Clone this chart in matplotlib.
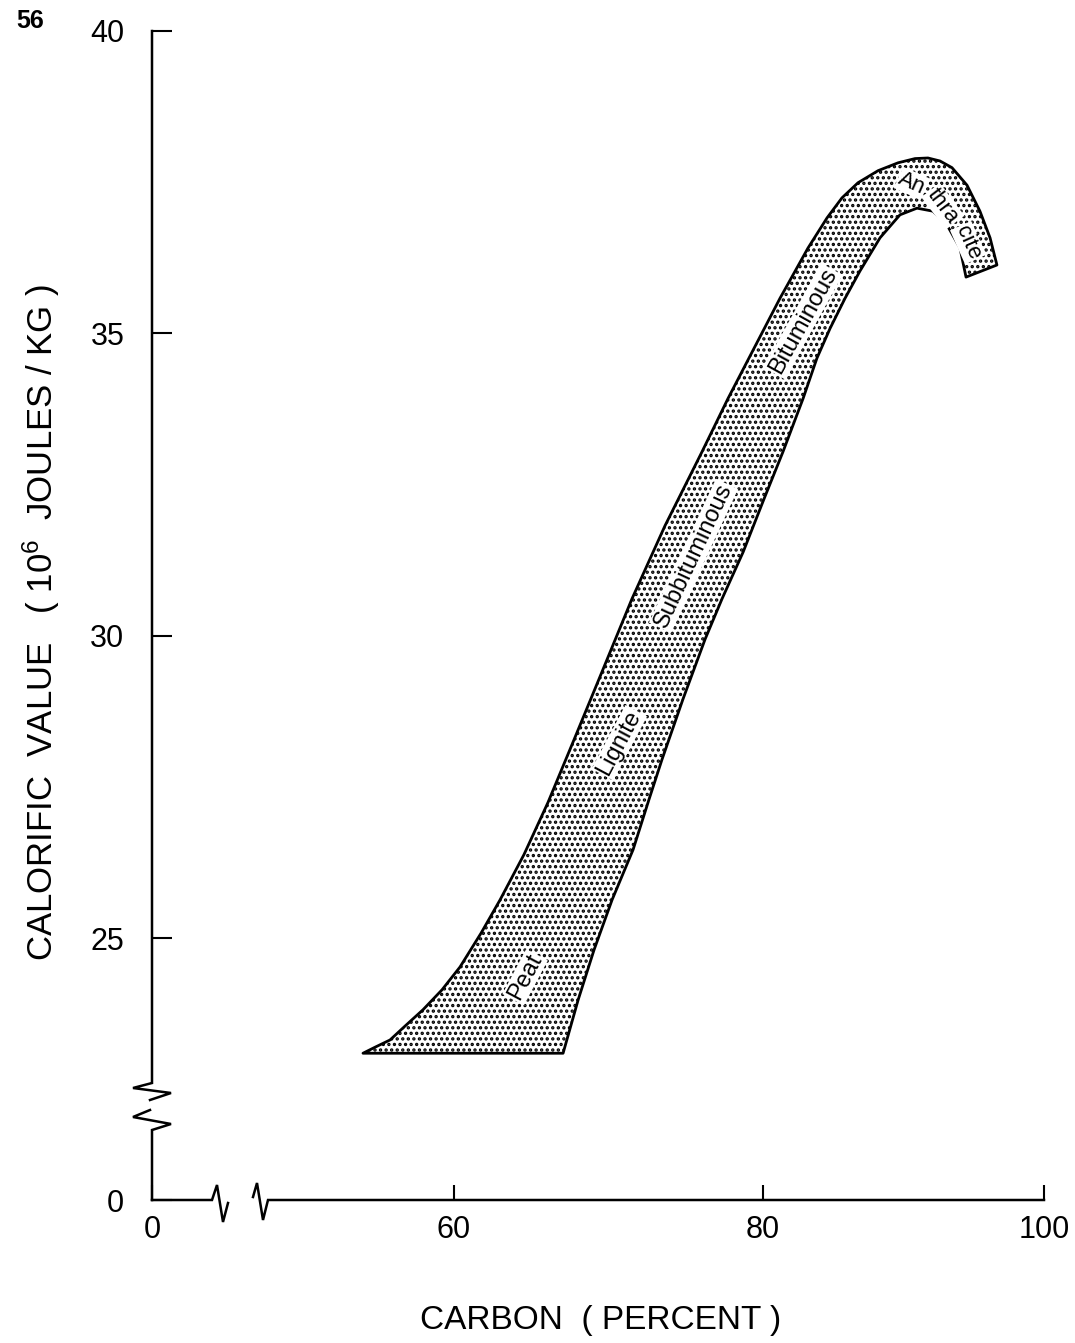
import numpy as np
import matplotlib
matplotlib.use("Agg")
import matplotlib.pyplot as plt
from matplotlib import transforms as mtransforms
from matplotlib.patches import Polygon

plt.rcParams['font.family'] = ['Liberation Sans', 'DejaVu Sans']
plt.rcParams['mathtext.default'] = 'regular'
plt.rcParams['hatch.linewidth'] = 1.6

# band outline (carbon %, 10^6 J/kg)
# outer edge: from the peat tip up and over the anthracite bend
outer_x = [54.11, 54.89, 55.86, 56.83, 57.99, 59.22, 60.39, 61.75, 62.98, 64.53,
           66.08, 67.77, 69.64, 71.52, 73.66, 76.05, 77.73, 79.09, 81.21, 83.20,
           84.56, 85.62, 86.76, 88.19, 89.61, 90.82, 91.74, 92.60, 93.45, 94.52,
           95.44, 96.16, 96.65]
outer_y = [23.09, 23.19, 23.31, 23.54, 23.81, 24.14, 24.52, 25.08, 25.63, 26.38,
           27.24, 28.28, 29.44, 30.61, 31.82, 33.04, 33.92, 34.59, 35.58, 36.41,
           36.91, 37.24, 37.49, 37.69, 37.82, 37.89, 37.90, 37.85, 37.74, 37.45,
           37.02, 36.58, 36.13]
# inner edge: from the anthracite end back down to the peat base
inner_x = [94.45, 94.02, 93.10, 92.10, 90.96, 89.75, 88.33, 86.90, 85.84, 84.77,
           83.84, 82.85, 81.42, 80.07, 78.71, 77.35, 76.25, 74.82, 73.46, 72.62,
           71.59, 70.23, 69.06, 68.03, 67.06]
inner_y = [35.93, 36.41, 36.79, 37.02, 37.07, 36.96, 36.58, 36.03, 35.58, 35.08,
           34.59, 33.92, 33.04, 32.26, 31.38, 30.61, 29.94, 28.95, 27.95, 27.29,
           26.46, 25.63, 24.80, 23.97, 23.09]

# rank labels: text, x, y, angle
rank_names = ["Peat", "Lignite", "Subbituminous", "Bituminous", "An", "thra", "cite"]
rank_x = [64.6, 70.7, 75.5, 82.85, 90.6, 92.8, 94.6]
rank_y = [24.35, 28.23, 31.32, 35.2, 37.48, 37.1, 36.5]
rank_rot = [62, 62, 65, 61, -24, -53, -66]
rank_size = [17, 17, 17, 17, 16, 16, 16]

x_ticks = [0, 60, 80, 100]
y_ticks = [0, 25, 30, 35, 40]

# the drawing's axes are hand-ruled and broken, so map through knots
xk = [0, 50, 60, 80, 100]
xp = [0, 147.5, 302, 611, 892]
yk = [0, 22, 25, 40]
yp = [0, 81, 262, 1169]

fig = plt.figure(figsize=(10.75, 13.43), dpi=100)
ax = fig.add_axes([152 / 1075, 1 - 1200 / 1343, 892 / 1075, 1169 / 1343])
ax.set_xscale('function', functions=(lambda v: np.interp(v, xk, xp),
                                     lambda v: np.interp(v, xp, xk)))
ax.set_yscale('function', functions=(lambda v: np.interp(v, yk, yp),
                                     lambda v: np.interp(v, yp, yk)))
ax.set_xlim(0, 100)
ax.set_ylim(0, 40)

verts = list(zip(outer_x, outer_y)) + list(zip(inner_x, inner_y))
band = Polygon(verts, closed=True, facecolor='white', edgecolor='black',
               hatch='...', linewidth=2.0, joinstyle='round')
ax.add_patch(band)

for s, x, y, r, fs in zip(rank_names, rank_x, rank_y, rank_rot, rank_size):
    ax.text(x, y, s, rotation=r, rotation_mode='anchor', ha='center', va='center',
            fontsize=fs, bbox=dict(facecolor='white', edgecolor='none', pad=0.8))

for sp in ax.spines.values():
    sp.set_visible(False)

ax.set_xticks(x_ticks)
ax.set_yticks(y_ticks)
ax.tick_params(axis='x', direction='in', length=11, width=1.5, labelsize=22, pad=11)
ax.tick_params(axis='y', direction='in', length=14.5, width=1.5, labelsize=22, pad=20)

# axis lines with break marks, in pixel offsets from the origin
pix = mtransforms.Affine2D().scale(1 / 892, 1 / 1169) + ax.transAxes
pieces = [
    [(0, 1169), (0, 117), (-19, 112), (19, 107), (-2, 100)],
    [(-2, 90), (-19, 83), (19, 76), (0, 70), (0, 0)],
    [(0, 0), (60, 0), (65, 15), (71, -22), (76, -3)],
    [(101, 3), (105, 17), (111, -20), (116, 0), (892, 0)],
]
for p in pieces:
    px, py = zip(*p)
    ax.plot(px, py, color='black', lw=1.8, transform=pix, clip_on=False,
            solid_joinstyle='miter')

fig.text(601 / 1075, 1 - 1320 / 1343, "CARBON  ( PERCENT )", ha='center', va='center',
         fontsize=24)
fig.text(41 / 1075, 1 - 622 / 1343, "CALORIFIC  VALUE   ( 10$^6$  JOULES / KG )",
         rotation=90, ha='center', va='center', fontsize=25)
fig.text(30 / 1075, 1 - 21 / 1343, "56", ha='center', va='center', fontsize=18,
         fontweight='bold')

fig.savefig("out.png", dpi=100)
